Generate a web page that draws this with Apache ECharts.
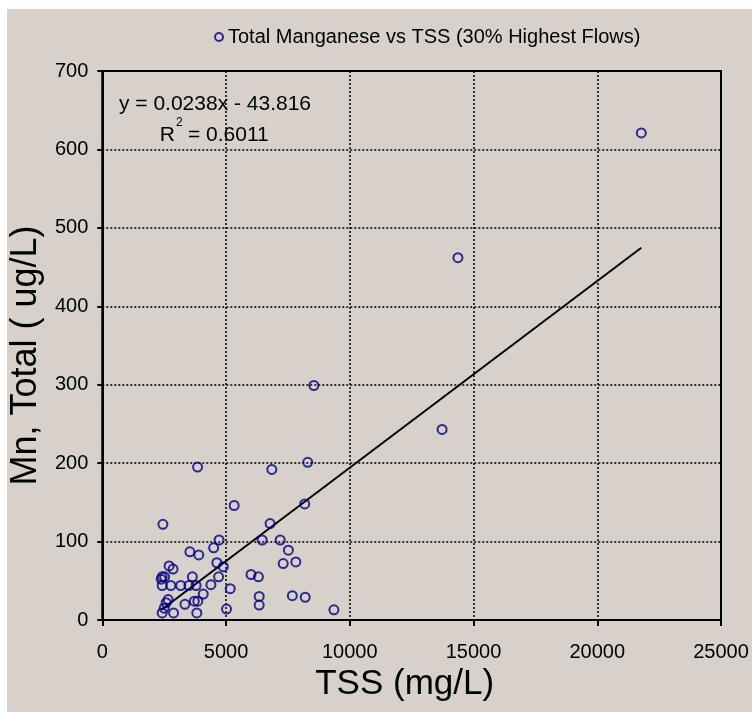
<!DOCTYPE html>
<html>
<head>
<meta charset="utf-8">
<script src="https://cdn.jsdelivr.net/npm/echarts@6/dist/echarts.min.js"></script>
<style>
  html, body { margin: 0; padding: 0; background: #fff; }
  #main { width: 752px; height: 712px; }
</style>
</head>
<body>
<div id="main"></div>
<script>
// TSS (mg/L) and total manganese (ug/L)
const tss = [
  21780, 14370, 13730, 8550, 8300, 8180, 6850, 3850, 5330, 6780,
  2450, 4720, 6460, 7190, 4500, 7520, 3540, 3900, 7310, 7820,
  4630, 4890, 2700, 2860, 2420, 2520, 2380, 3640, 4700, 6010,
  6310, 2420, 2770, 3170, 3500, 3790, 4390, 5170, 4080, 6340,
  6340, 7680, 8200, 9360, 5020, 2660, 2580, 2500, 2420, 2880,
  3340, 3720, 3860, 3820
];
const mn = [
  621, 462, 243, 299, 201, 148, 192, 195, 146, 123,
  122, 102, 102, 102, 92, 89, 87, 83, 72, 74,
  73, 68, 69, 65, 55, 55, 52, 55, 55, 58,
  55, 44, 44, 44, 44, 44, 45, 40, 33, 30,
  19, 31, 29, 13, 14, 26, 22, 15, 9, 9,
  20, 24, 24, 9
];

// trend line from the chart's own label
const slope = 0.0238;
const intercept = -43.816;
const xTicks = [0, 5000, 10000, 15000, 20000, 25000];
const yTicks = [0, 100, 200, 300, 400, 500, 600, 700];

const seriesName = 'Total Manganese vs TSS (30% Highest Flows)';
const font = '"Liberation Sans", Arial, sans-serif';
const beige = '#d8d0ca';

const points = tss.map((x, i) => [x, mn[i]]);
const xMin = Math.min(...tss);
const xMax = Math.max(...tss);
const trend = [xMin, xMax].map(x => [x, slope * x + intercept]);

const myChart = echarts.init(document.getElementById('main'));
myChart.setOption({
  backgroundColor: beige,
  animation: false,
  textStyle: { fontFamily: font, color: '#000' },
  legend: {
    data: [{
      name: seriesName,
      icon: 'circle',
      itemStyle: { color: 'rgba(0,0,0,0)', borderColor: '#000080', borderWidth: 2 }
    }],
    left: 209,
    top: 22,
    itemWidth: 8,
    itemHeight: 8,
    itemGap: 5,
    textStyle: { fontFamily: font, fontSize: 20, color: '#000' }
  },
  grid: {
    left: 100, right: 31, top: 71, bottom: 92,
    show: true, borderColor: '#000', borderWidth: 2, backgroundColor: 'transparent'
  },
  xAxis: {
    type: 'value',
    min: xTicks[0],
    max: xTicks[xTicks.length - 1],
    interval: xTicks[1] - xTicks[0],
    name: 'TSS (mg/L)',
    nameLocation: 'middle',
    nameGap: 42,
    nameTextStyle: { fontFamily: font, fontSize: 35, color: '#000', padding: [0, 14, 0, 0] },
    axisLine: { lineStyle: { color: '#000', width: 2 } },
    axisTick: { show: true, length: 6, lineStyle: { color: '#000', width: 2 } },
    axisLabel: { margin: 22, fontSize: 20, color: '#000', fontFamily: font, formatter: v => String(v) },
    splitLine: { lineStyle: { color: '#000', type: [2, 2], width: 1.5 } }
  },
  yAxis: {
    type: 'value',
    min: yTicks[0],
    max: yTicks[yTicks.length - 1],
    interval: yTicks[1] - yTicks[0],
    name: 'Mn, Total ( ug/L)',
    nameLocation: 'middle',
    nameGap: 52,
    nameTextStyle: { fontFamily: font, fontSize: 36, color: '#000', padding: [0, 20, 0, 0] },
    axisLine: { show: true, lineStyle: { color: '#000', width: 2 } },
    axisTick: { show: true, length: 5, lineStyle: { color: '#000', width: 2 } },
    axisLabel: { margin: 14, fontSize: 20, color: '#000', fontFamily: font, formatter: v => String(v) },
    splitLine: { lineStyle: { color: '#000', type: [2, 2], width: 1.5 } }
  },
  graphic: [
    // white strips at the top and left edge
    { type: 'rect', left: 0, top: 0, shape: { width: 752, height: 9 }, style: { fill: '#fff' } },
    { type: 'rect', left: 0, top: 0, shape: { width: 7, height: 712 }, style: { fill: '#fff' } },
    // equation box
    {
      type: 'group', z: 100,
      children: [
        { type: 'rect', shape: { x: 115, y: 85, width: 200, height: 72 }, style: { fill: beige } },
        { type: 'text', x: 215, y: 104, style: { text: 'y = 0.0238x - 43.816', font: '21px ' + font, fill: '#000', textAlign: 'center', textVerticalAlign: 'middle' } },
        { type: 'text', x: 175, y: 135, style: { text: 'R', font: '21px ' + font, fill: '#000', textAlign: 'right', textVerticalAlign: 'middle' } },
        { type: 'text', x: 176, y: 123, style: { text: '2', font: '12px ' + font, fill: '#000', textAlign: 'left', textVerticalAlign: 'middle' } },
        { type: 'text', x: 188, y: 135, style: { text: '= 0.6011', font: '21px ' + font, fill: '#000', textAlign: 'left', textVerticalAlign: 'middle' } }
      ]
    }
  ],
  series: [
    {
      name: seriesName,
      type: 'scatter',
      data: points,
      symbol: 'circle',
      symbolSize: 9,
      itemStyle: { color: 'rgba(0,0,0,0)', borderColor: '#000080', borderWidth: 2 },
      z: 3
    },
    {
      name: 'trend',
      type: 'line',
      data: trend,
      showSymbol: false,
      symbol: 'none',
      lineStyle: { color: '#000', width: 2 },
      z: 2
    }
  ]
});
</script>
</body>
</html>
